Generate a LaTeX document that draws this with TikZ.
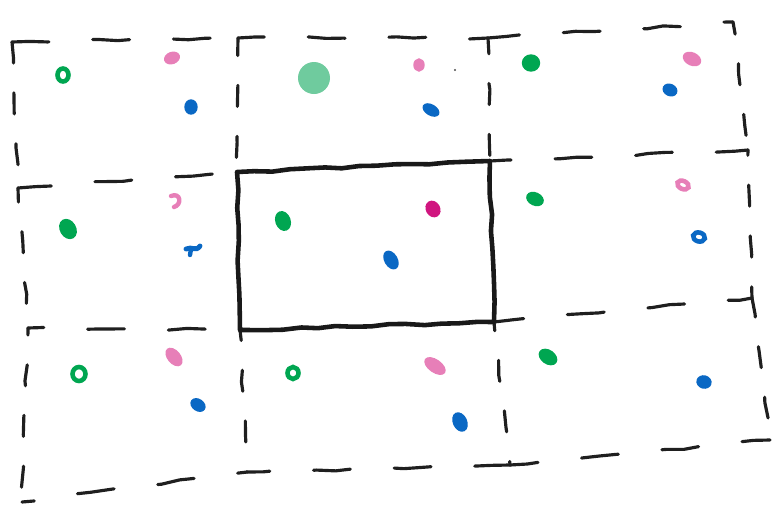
\documentclass[tikz,border=0pt]{standalone}
\usetikzlibrary{decorations.pathmorphing}

\definecolor{penGreen}{HTML}{00A651}
\definecolor{penPink}{HTML}{E77FB8}
\definecolor{penMagenta}{HTML}{D0157F}
\definecolor{penBlue}{HTML}{0A68C4}
\definecolor{softGreen}{HTML}{6FCB9E}

\tikzset{
  sketch/.style={decorate, decoration={random steps, segment length=10pt, amplitude=0.7pt},
                 line cap=round, line join=round},
  gridline/.style={sketch, line width=1.8pt, black!88, dash pattern=on 21pt off 25pt},
  gridvert/.style={sketch, line width=1.8pt, black!88, dash pattern=on 12pt off 17pt},
  boxline/.style={sketch, line width=2.6pt, black!90},
  blob/.style={fill=#1, draw=#1, line width=0.8pt},
  ring/.style={draw=#1, line width=2.6pt},
}

\begin{document}
\begin{tikzpicture}[x=0.02cm, y=-0.02cm]
    \pgfmathsetseed{7}
    \useasboundingbox (0,0) rectangle (779,511);

    % --- punti della griglia (4 x 4) ---
    \coordinate (a00) at (12,42);  \coordinate (a01) at (238,38);
    \coordinate (a02) at (488,38); \coordinate (a03) at (733,22);
    \coordinate (a10) at (18,188); \coordinate (a11) at (237,172);
    \coordinate (a12) at (490,161); \coordinate (a13) at (748,150);
    \coordinate (a20) at (28,328); \coordinate (a21) at (240,330);
    \coordinate (a22) at (494,322); \coordinate (a23) at (752,298);
    \coordinate (a30) at (22,502); \coordinate (a31) at (247,472);
    \coordinate (a32) at (510,465); \coordinate (a33) at (770,440);

    % linee orizzontali tratteggiate
    \draw[gridline] (a00) -- (a01);
    \draw[gridline, dash phase=6pt] (a01) -- (a02);
    \draw[gridline, dash phase=3pt] (a02) -- (a03);
    \draw[gridline, dash phase=2pt] (a10) -- (a11);
    \draw[gridline, dash phase=9pt] (a12) -- (a13);
    \draw[gridline, dash phase=12pt] (a20) -- (a21);
    \draw[gridline, dash phase=4pt] (a22) -- (a23);
    \draw[gridline, dash phase=14pt] (a30) -- (a31);
    \draw[gridline, dash phase=8pt] (a31) -- (a32);
    \draw[gridline, dash phase=5pt] (a32) -- (a33);

    % linee verticali tratteggiate
    \draw[gridvert] (a00) -- (a10);
    \draw[gridvert, dash phase=4pt] (a10) -- (a20);
    \draw[gridvert, dash phase=8pt] (a20) -- (a30);
    \draw[gridvert, dash phase=2pt] (a01) -- (a11);
    \draw[gridvert, dash phase=6pt] (a21) -- (a31);
    \draw[gridvert, dash phase=3pt] (a02) -- (a12);
    \draw[gridvert, dash phase=7pt] (a22) -- (a32);
    \draw[gridvert, dash phase=5pt] (a03) -- (a13);
    \draw[gridvert, dash phase=9pt] (a13) -- (a23);
    \draw[gridvert, dash phase=1pt] (a23) -- (a33);

    % --- cella centrale (bordo pieno) ---
    \draw[boxline] (a11) -- (a12) -- (a22) -- (a21) -- cycle;

    % --- punti colorati ---
    % riga in alto
    \draw[ring=penGreen] (63,75) ellipse (5.5 and 6.5);
    \filldraw[blob=penPink, rotate around={20:(172,58)}] (172,58) ellipse (7.5 and 5.5);
    \filldraw[blob=penBlue] (191,107) ellipse (6 and 7);
    \fill[softGreen] (314,78) ellipse (16 and 16);
    \filldraw[blob=penPink] (419,65) ellipse (5 and 6);
    \filldraw[blob=penBlue, rotate around={-30:(431,110)}] (431,110) ellipse (8.5 and 5);
    \fill[black!70] (455,70) circle (1.2);
    \filldraw[blob=penGreen] (531,63) ellipse (8.5 and 8);
    \filldraw[blob=penPink, rotate around={-25:(692,59)}] (692,59) ellipse (9 and 6);
    \filldraw[blob=penBlue, rotate around={-25:(670,90)}] (670,90) ellipse (7 and 5.5);
    % riga centrale
    \filldraw[blob=penGreen, rotate around={-60:(68,229)}] (68,229) ellipse (10 and 7.5);
    \draw[penPink, line width=2.5pt, line cap=round] (171,196) .. controls (181,192) and (182,205) .. (174,207);
    \draw[penBlue, line width=2.8pt, line cap=round] (186,249) .. controls (192,246) and (196,252) .. (200,246);
    \draw[penBlue, line width=2.5pt, line cap=round] (191,249) -- (190,255);
    \filldraw[blob=penGreen, rotate around={-70:(283,221)}] (283,221) ellipse (9.5 and 7);
    \filldraw[blob=penMagenta, rotate around={-60:(433,209)}] (433,209) ellipse (8 and 6.5);
    \filldraw[blob=penBlue, rotate around={-60:(391,260)}] (391,260) ellipse (9.5 and 6);
    \filldraw[blob=penGreen, rotate around={-25:(535,199)}] (535,199) ellipse (8.5 and 6);
    \draw[ring=penPink, rotate around={-25:(683,185)}] (683,185) ellipse (6 and 4);
    \draw[ring=penBlue, rotate around={-15:(699,237)}] (699,237) ellipse (6 and 4.5);
    % riga in basso
    \draw[ring=penGreen] (79,374) ellipse (6.5 and 7);
    \filldraw[blob=penPink, rotate around={-50:(174,357)}] (174,357) ellipse (10 and 6);
    \filldraw[blob=penBlue, rotate around={-35:(198,405)}] (198,405) ellipse (7.5 and 5.5);
    \draw[ring=penGreen] (293,373) ellipse (5.5 and 6);
    \filldraw[blob=penPink, rotate around={-35:(435,366)}] (435,366) ellipse (11.5 and 6);
    \filldraw[blob=penBlue, rotate around={-65:(460,422)}] (460,422) ellipse (9.5 and 6.5);
    \filldraw[blob=penGreen, rotate around={-35:(548,357)}] (548,357) ellipse (9.5 and 6.5);
    \filldraw[blob=penBlue, rotate around={-15:(704,382)}] (704,382) ellipse (7 and 6);
\end{tikzpicture}
\end{document}
